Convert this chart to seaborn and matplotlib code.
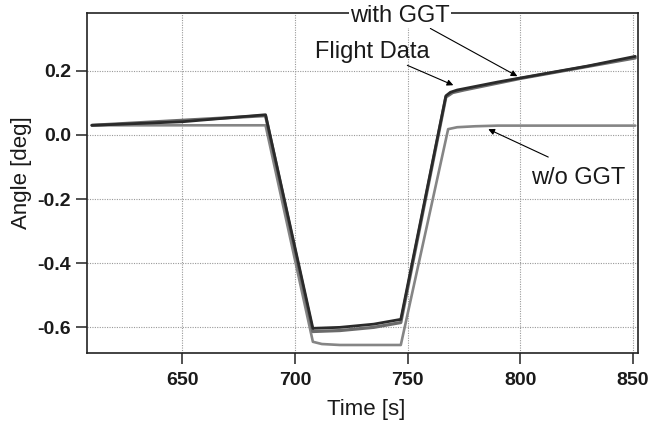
import matplotlib
matplotlib.use("Agg")
import matplotlib.pyplot as plt
import seaborn as sns
import pandas as pd

# Measured flight data
flight_t = [610, 650, 687, 708, 720, 735, 747, 767, 769, 772, 790, 810, 830, 851]
flight_v = [0.030, 0.041, 0.063, -0.603, -0.600, -0.590, -0.575, 0.122, 0.133, 0.140,
            0.165, 0.190, 0.215, 0.245]

# Simulation with gravity-gradient torque
ggt_t = [610, 687, 708, 720, 735, 747, 767, 770, 775, 800, 851]
ggt_v = [0.030, 0.060, -0.613, -0.610, -0.600, -0.585, 0.118, 0.132, 0.140, 0.176, 0.240]

# Simulation without gravity-gradient torque
nogg_t = [610, 687, 708, 712, 720, 747, 768, 772, 780, 790, 851]
nogg_v = [0.030, 0.030, -0.645, -0.652, -0.655, -0.655, 0.018, 0.024, 0.027, 0.029, 0.029]

x_ticks = [650, 700, 750, 800, 850]
y_ticks = [-0.6, -0.4, -0.2, 0.0, 0.2]
y_tick_labels = ["-0.6", "-0.4", "-0.2", "0.0", "0.2"]

sns.set_style("ticks")
plt.rcParams["font.family"] = ["Liberation Sans", "DejaVu Sans"]

fig = plt.figure(figsize=(6.5, 4.21), dpi=100)
ax = fig.add_axes([0.1338, 0.1615, 0.8477, 0.8075])

df_nogg = pd.DataFrame({"t": nogg_t, "v": nogg_v})
df_ggt = pd.DataFrame({"t": ggt_t, "v": ggt_v})
df_flight = pd.DataFrame({"t": flight_t, "v": flight_v})

sns.lineplot(data=df_nogg, x="t", y="v", ax=ax, color="#858585", lw=1.9,
             estimator=None, sort=False, zorder=3)
sns.lineplot(data=df_ggt, x="t", y="v", ax=ax, color="#6a6a6a", lw=2.3,
             estimator=None, sort=False, zorder=4)
sns.lineplot(data=df_flight, x="t", y="v", ax=ax, color="#2a2a2a", lw=2.0,
             estimator=None, sort=False, zorder=5)

ax.set_xlim(607.8, 852.2)
ax.set_ylim(-0.68, 0.38)
ax.set_xticks(x_ticks)
ax.set_xticklabels([str(v) for v in x_ticks])
ax.set_yticks(y_ticks)
ax.set_yticklabels(y_tick_labels)

for lab in ax.get_xticklabels() + ax.get_yticklabels():
    lab.set_fontweight("bold")
    lab.set_fontsize(14)
    lab.set_color("#1a1a1a")

ax.tick_params(axis="both", direction="out", length=8, width=1.2, color="#333333")
ax.tick_params(axis="x", pad=6)
ax.tick_params(axis="y", pad=3.5)

for sp in ax.spines.values():
    sp.set_visible(True)
    sp.set_linewidth(1.2)
    sp.set_color("#222222")

ax.grid(True, linestyle=(0, (1, 1.2)), color="#999999", linewidth=0.8)
ax.set_axisbelow(True)

ax.set_xlabel("Time [s]", fontsize=16, color="#1a1a1a")
ax.set_ylabel("Angle [deg]", fontsize=16, color="#1a1a1a")
ax.xaxis.set_label_coords(0.5065, -0.135)
ax.yaxis.set_label_coords(-0.1, 0.53)

arrow = dict(arrowstyle="-|>", color="black", lw=0.8, mutation_scale=9,
             shrinkA=0, shrinkB=0)

ax.text(746.7, 0.372, "with GGT", fontsize=17, ha="center", va="center",
        color="#1a1a1a", zorder=10,
        bbox=dict(facecolor="white", edgecolor="none", pad=1.0),
        clip_on=False)
ax.annotate("", xy=(798.7, 0.183), xytext=(760.1, 0.332), arrowprops=arrow, zorder=9)

ax.text(734.3, 0.258, "Flight Data", fontsize=17, ha="center", va="center",
        color="#1a1a1a", zorder=10)
ax.annotate("", xy=(770.3, 0.155), xytext=(749.9, 0.217), arrowprops=arrow, zorder=9)

ax.text(825.7, -0.135, "w/o GGT", fontsize=17, ha="center", va="center",
        color="#1a1a1a", zorder=10)
ax.annotate("", xy=(785.8, 0.018), xytext=(812.4, -0.069), arrowprops=arrow, zorder=9)

fig.savefig("out.png", dpi=100)
